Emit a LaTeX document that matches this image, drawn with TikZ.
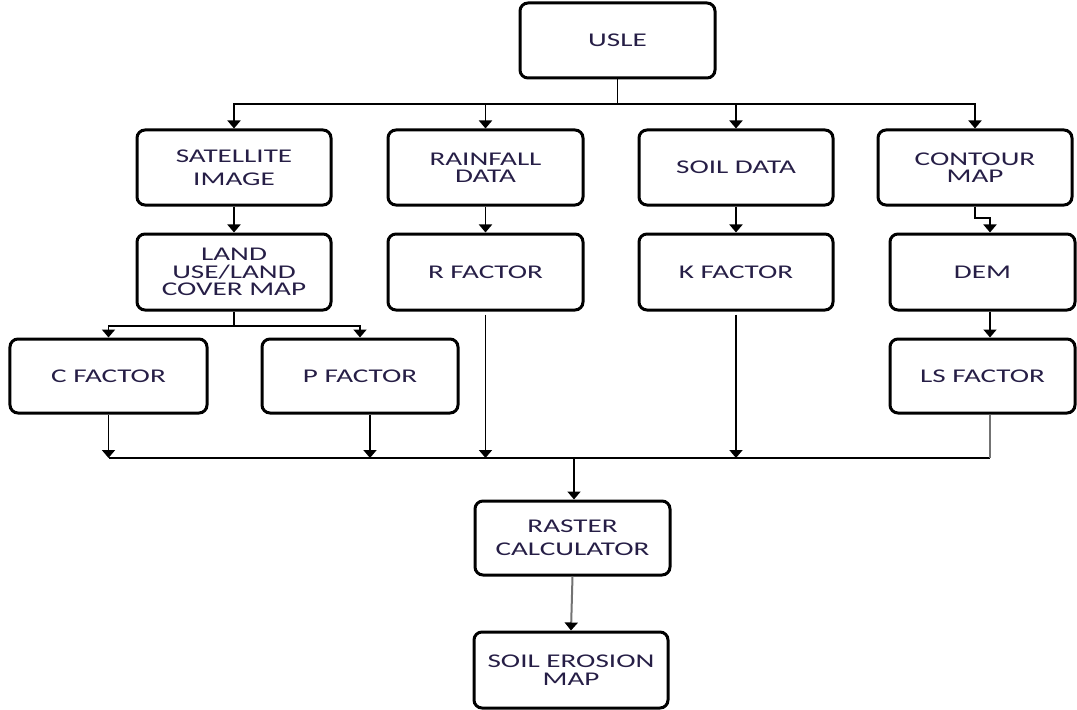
\documentclass[tikz,border=0pt]{standalone}
\usepackage{fontspec}
\setmainfont{Carlito}[FakeStretch=1.5]
\usetikzlibrary{arrows.meta,calc}
\definecolor{txt}{RGB}{38,30,70}
\tikzset{
  box/.style={draw=black, line width=3bp, rounded corners=8bp, fill=white,
    inner sep=0pt, align=center, text=txt, minimum width=195bp, minimum height=75bp,
    font=\fontsize{19.5}{23}\selectfont},
  tight/.style={font=\fontsize{19.5}{17.5}\selectfont},
  conn/.style={line width=1.8bp, draw=black},
  gconn/.style={line width=2bp, draw=black!55},
  arr/.style={conn, -{Triangle[width=13bp,length=8bp]}},
  garr/.style={gconn, -{Triangle[width=13bp,length=8bp,color=black]}}
}
\begin{document}
\begin{tikzpicture}[x=1bp,y=-1bp]
\useasboundingbox (0,0) rectangle (1077,710);
% boxes
\node[box] (usle) at (617.5,40.5) {USLE};
\node[box, minimum width=194bp] (sat) at (234,167.5) {SATELLITE\\IMAGE};
\node[box, tight] (rain) at (485.5,167.5) {RAINFALL\\DATA};
\node[box, minimum width=194bp] (soil) at (736,167.5) {SOIL DATA};
\node[box, tight, minimum width=194bp] (cont) at (975,167.5) {CONTOUR\\MAP};
\node[box, tight, minimum width=194bp, minimum height=76bp] (lulc) at (234,272) {LAND\\USE/LAND\\COVER MAP};
\node[box, minimum height=76bp] (rfac) at (485.5,272) {R FACTOR};
\node[box, minimum width=194bp, minimum height=76bp] (kfac) at (736,272) {K FACTOR};
\node[box, minimum width=185bp, minimum height=76bp] (dem) at (982.5,272) {DEM};
\node[box, minimum width=197bp, minimum height=74bp] (cfac) at (108.5,376) {C FACTOR};
\node[box, minimum width=196bp, minimum height=74bp] (pfac) at (360,376) {P FACTOR};
\node[box, minimum width=185bp, minimum height=74bp] (ls) at (982.5,376) {LS FACTOR};
\node[box, minimum height=74bp] (rast) at (572.5,538) {RASTER\\CALCULATOR};
\node[box, tight, minimum width=194bp, minimum height=76bp] (soer) at (571,670) {SOIL EROSION\\MAP};
% coordinates
\coordinate (b1) at (617.5,104);
\coordinate (j2) at (990,218);
\coordinate (b2) at (234,326);
\coordinate (b3) at (574,458);
% top distribution
\draw[arr] (usle.south) -- (b1) -| (sat.north);
\draw[arr] (b1) -| (rain.north);
\draw[arr] (b1) -| (soil.north);
\draw[arr] (b1) -| (cont.north);
% columns
\draw[arr] (sat.south) -- (lulc.north);
\draw[arr] (rain.south) -- (rfac.north);
\draw[arr] (soil.south) -- (kfac.north);
\draw[arr] (cont.south) |- (j2) -- (j2 |- dem.north);
\draw[arr] (j2 |- dem.south) -- (j2 |- ls.north);
% land use split
\draw[arr] (lulc.south) -- (b2) -| (cfac.north);
\draw[arr] (b2) -| (pfac.north);
% bottom collection
\draw[conn] (cfac.south |- b3) -- (j2 |- b3);
\draw[gconn] (j2 |- ls.south) -- (j2 |- b3);
\draw[arr] (cfac.south) -- (cfac.south |- b3);
\draw[arr] ($(pfac.south)+(10,0)$) -- ($(pfac.south |- b3)+(10,0)$);
\draw[arr] ($(rfac.south)+(0,3)$) -- (rfac.south |- b3);
\draw[arr] ($(kfac.south)+(0,3)$) -- (kfac.south |- b3);
\draw[arr] (b3) -- (b3 |- rast.north);
\draw[garr] (rast.south) -- (soer.north);
\end{tikzpicture}
\end{document}
